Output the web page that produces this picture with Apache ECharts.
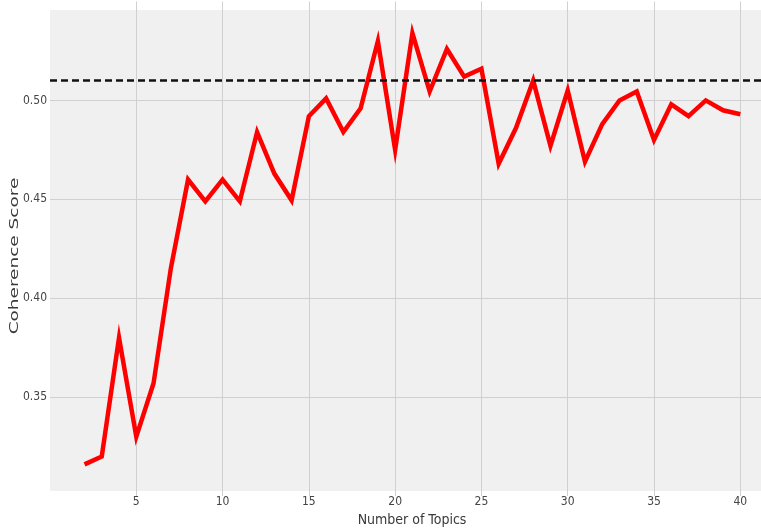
<!DOCTYPE html>
<html>
<head>
<meta charset="utf-8">
<script src="https://cdn.jsdelivr.net/npm/echarts@6/dist/echarts.min.js"></script>
<style>
  html, body { margin: 0; padding: 0; background: #ffffff; }
  #chart { width: 761px; height: 532px; }
</style>
</head>
<body>
<div id="chart"></div>
<script>
// Coherence score for each number of topics
const topics = [2, 3, 4, 5, 6, 7, 8, 9, 10, 11, 12, 13, 14, 15, 16, 17, 18, 19, 20, 21,
                22, 23, 24, 25, 26, 27, 28, 29, 30, 31, 32, 33, 34, 35, 36, 37, 38, 39, 40];
const coherence = [0.316, 0.320, 0.380, 0.330, 0.357, 0.415, 0.460, 0.449, 0.460, 0.449,
                   0.484, 0.463, 0.4495, 0.492, 0.501, 0.484, 0.496, 0.530, 0.475, 0.534,
                   0.5045, 0.526, 0.512, 0.516, 0.468, 0.486, 0.510, 0.477, 0.505, 0.469,
                   0.488, 0.500, 0.5045, 0.480, 0.498, 0.492, 0.500, 0.495, 0.493];
// Reference level drawn as a dashed horizontal line
const baseline = 0.51;

// Tick labels shown on each axis
const xTickLabels = ['5', '10', '15', '20', '25', '30', '35', '40'];
const yTickLabels = ['0.35', '0.40', '0.45', '0.50'];

const labelFont = '"DejaVu Sans Condensed", "Liberation Sans Narrow", "DejaVu Sans", sans-serif';

const chart = echarts.init(document.getElementById('chart'), null, { renderer: 'canvas' });

chart.setOption({
  animation: false,
  backgroundColor: '#ffffff',
  grid: { left: 50, right: 0, top: 1.5, bottom: 34.5, containLabel: false },
  graphic: [
    {
      // plot background panel
      type: 'rect',
      z: -10,
      silent: true,
      shape: { x: 50, y: 10, width: 711, height: 481 },
      style: { fill: '#f0f0f0' }
    },
    {
      type: 'text',
      x: 15,
      y: 256,
      rotation: Math.PI / 2,
      scaleX: 1.54,
      silent: true,
      style: {
        text: 'Coherence Score',
        font: '12px "DejaVu Sans", sans-serif',
        fill: '#3a3a3a',
        align: 'center',
        verticalAlign: 'middle'
      }
    }
  ],
  xAxis: {
    type: 'value',
    min: 0,
    max: 41.2,
    interval: 5,
    name: 'Number of Topics',
    nameLocation: 'middle',
    nameGap: 17,
    nameTextStyle: {
      fontFamily: labelFont,
      fontSize: 14,
      color: '#3a3a3a',
      padding: [0, 0, 0, 13]
    },
    axisLine: { show: false },
    axisTick: { show: false },
    axisLabel: {
      margin: 0,
      showMinLabel: false,
      showMaxLabel: false,
      fontFamily: labelFont,
      fontSize: 12,
      color: '#444444',
      formatter: function (v) {
        const s = String(Math.round(v));
        return xTickLabels.indexOf(s) >= 0 ? s : '';
      }
    },
    splitLine: {
      show: true,
      showMinLine: false,
      showMaxLine: false,
      lineStyle: { color: '#d0d0d0', width: 1 }
    }
  },
  yAxis: {
    type: 'value',
    min: 0.30,
    max: 0.55,
    interval: 0.05,
    axisLine: { show: false },
    axisTick: { show: false },
    axisLabel: {
      margin: 3,
      showMinLabel: false,
      showMaxLabel: false,
      fontFamily: labelFont,
      fontSize: 12,
      color: '#444444',
      formatter: function (v) {
        const s = v.toFixed(2);
        return yTickLabels.indexOf(s) >= 0 ? s : '';
      }
    },
    splitLine: {
      show: true,
      showMinLine: false,
      showMaxLine: false,
      lineStyle: { color: '#d0d0d0', width: 1 }
    }
  },
  series: [
    {
      type: 'line',
      data: topics.map((t, i) => [t, coherence[i]]),
      showSymbol: false,
      symbol: 'none',
      z: 3,
      lineStyle: { color: '#ff0000', width: 4.5, join: 'miter' },
      markLine: {
        silent: true,
        symbol: ['none', 'none'],
        label: { show: false },
        z: 4,
        lineStyle: { color: '#111111', width: 2.5, type: [7, 4] },
        data: [{ yAxis: baseline }]
      }
    }
  ]
});
</script>
</body>
</html>
